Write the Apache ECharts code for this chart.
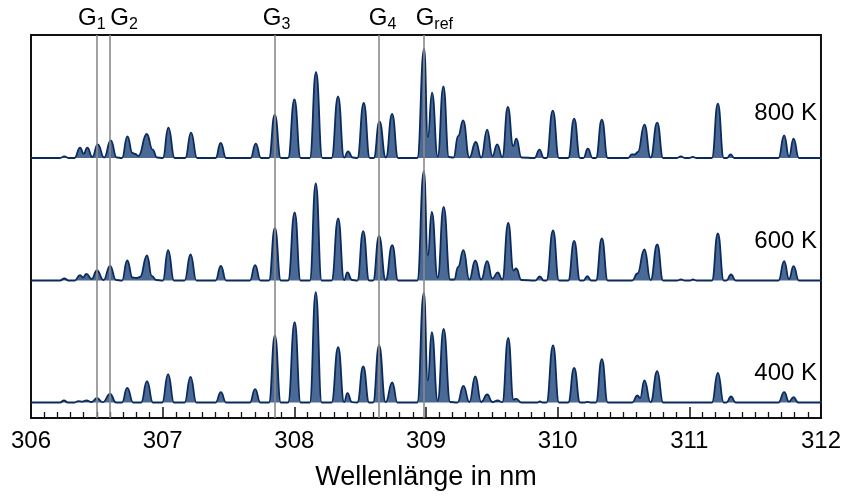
<!DOCTYPE html>
<html>
<head>
<meta charset="utf-8">
<script src="https://cdn.jsdelivr.net/npm/echarts@6/dist/echarts.min.js"></script>
<style>
  html, body { margin: 0; padding: 0; background: #fff; }
  #chart { width: 844px; height: 496px; }
</style>
</head>
<body>
<div id="chart"></div>
<script>
// turning points of each spectrum: [wavelength nm, intensity a.u.]
const spec800 = [
  [306, 0], [306.22, 0], [306.253, 1.7], [306.285, 0],
  [306.33, 0], [306.372, 10.3], [306.40, 4.3], [306.427, 10.3], [306.465, 1], [306.506, 13.7],
  [306.555, 0.5], [306.605, 17.7], [306.65, 0.5],
  [306.69, 0], [306.731, 21.7], [306.77, 5], [306.79, 4], [306.815, 2], [306.878, 24],
  [306.923, 8.3], [306.955, 0.5],
  [307.0, 0], [307.042, 30.3], [307.09, 0],
  [307.17, 0], [307.214, 25.3], [307.26, 0],
  [307.40, 0], [307.439, 15], [307.48, 0],
  [307.665, 0], [307.705, 14.3], [307.745, 0],
  [307.805, 0], [307.849, 43.3], [307.895, 0],
  [307.95, 0], [307.998, 58.7], [308.045, 0],
  [308.115, 0], [308.162, 86], [308.21, 0],
  [308.28, 0], [308.329, 61.7], [308.375, 0.5], [308.405, 6.7], [308.44, 0.5],
  [308.475, 0], [308.524, 55], [308.57, 0],
  [308.60, 0], [308.643, 36.7], [308.692, 0.5], [308.739, 44], [308.785, 0],
  [308.93, 0], [308.982, 109.3], [309.01, 21], [309.042, 65.3], [309.085, 1.7], [309.128, 71.7],
  [309.17, 1], [309.205, 0.5], [309.24, 22], [309.278, 37.7], [309.325, 0.5],
  [309.374, 16], [309.415, 0.5], [309.46, 28.3], [309.50, 2], [309.536, 13.7], [309.575, 1],
  [309.617, 51], [309.658, 12], [309.682, 19.3], [309.72, 0.5],
  [309.82, 0], [309.857, 8.3], [309.89, 0],
  [309.91, 0], [309.958, 47.3], [310.005, 0],
  [310.075, 0], [310.12, 39.3], [310.165, 0],
  [310.19, 0], [310.224, 9.3], [310.26, 0],
  [310.285, 0], [310.33, 38.3], [310.375, 0],
  [310.53, 0], [310.558, 3.7], [310.58, 3.5], [310.603, 6], [310.653, 33.3], [310.70, 0.5],
  [310.75, 35.3], [310.795, 0],
  [310.90, 0], [310.929, 1.7], [310.96, 0], [310.99, 0], [311.02, 1], [311.05, 0],
  [311.165, 0], [311.21, 54.3], [311.255, 0], [311.28, 0], [311.306, 3.7], [311.335, 0],
  [311.67, 0], [311.713, 22.7], [311.75, 1.5], [311.784, 19.3], [311.825, 0], [312, 0]
];

const spec600 = [
  [306, 0], [306.22, 0], [306.253, 2], [306.285, 0],
  [306.33, 0], [306.372, 5.3], [306.395, 3], [306.42, 6.7], [306.46, 1.5], [306.50, 10],
  [306.55, 0.5], [306.60, 14.7], [306.645, 0.5],
  [306.69, 0], [306.73, 20], [306.77, 3], [306.80, 2.5], [306.827, 3.5], [306.88, 25],
  [306.916, 4.7], [306.95, 0.5],
  [307.0, 0], [307.04, 30.3], [307.085, 0],
  [307.165, 0], [307.21, 26], [307.255, 0],
  [307.40, 0], [307.44, 14.7], [307.48, 0],
  [307.66, 0], [307.70, 15.3], [307.74, 0],
  [307.805, 0], [307.85, 52.7], [307.895, 0],
  [307.95, 0], [308.0, 68], [308.045, 0],
  [308.115, 0], [308.16, 97], [308.205, 0],
  [308.28, 0], [308.33, 62], [308.375, 0.5], [308.40, 8], [308.435, 0.5],
  [308.475, 0], [308.52, 49.3], [308.565, 0],
  [308.595, 0], [308.64, 44.7], [308.69, 0.5], [308.74, 35.3], [308.785, 0],
  [308.93, 0], [308.98, 109.3], [309.01, 25], [309.04, 68.7], [309.085, 3], [309.13, 73.7],
  [309.18, 1], [309.21, 1], [309.24, 13.7], [309.28, 30.3], [309.325, 1],
  [309.37, 20], [309.415, 1], [309.46, 19.3], [309.50, 2], [309.54, 8], [309.575, 1],
  [309.62, 57.7], [309.66, 10], [309.68, 12], [309.72, 0.5],
  [309.825, 0], [309.86, 4], [309.89, 0],
  [309.91, 0], [309.96, 50], [310.005, 0],
  [310.075, 0], [310.12, 39.7], [310.165, 0],
  [310.19, 0], [310.22, 4.3], [310.25, 0],
  [310.285, 0], [310.33, 42], [310.375, 0],
  [310.56, 0], [310.60, 7], [310.653, 31], [310.70, 0.5], [310.75, 36], [310.795, 0],
  [310.90, 0], [310.93, 1], [310.96, 0], [311.0, 0], [311.02, 1], [311.05, 0],
  [311.165, 0], [311.21, 47], [311.255, 0], [311.275, 0], [311.31, 6], [311.345, 0],
  [311.67, 0], [311.713, 19.3], [311.75, 1.5], [311.784, 14.3], [311.825, 0], [312, 0]
];

const spec400 = [
  [306, 0], [306.22, 0], [306.25, 2], [306.28, 0],
  [306.33, 0], [306.36, 1.3], [306.39, 0.8], [306.42, 2], [306.46, 0.5], [306.50, 4.3],
  [306.545, 0.3], [306.60, 8.7], [306.645, 0],
  [306.69, 0], [306.73, 14.7], [306.775, 0],
  [306.835, 0], [306.88, 21.3], [306.925, 0],
  [306.995, 0], [307.04, 28.3], [307.085, 0],
  [307.165, 0], [307.21, 25.7], [307.255, 0],
  [307.40, 0], [307.44, 10.3], [307.48, 0],
  [307.66, 0], [307.70, 13.3], [307.74, 0],
  [307.805, 0], [307.85, 67], [307.895, 0],
  [307.95, 0], [308.0, 80.3], [308.045, 0],
  [308.115, 0], [308.16, 110.3], [308.205, 0],
  [308.28, 0], [308.33, 55.3], [308.375, 0.5], [308.40, 9.3], [308.435, 0.3],
  [308.475, 0], [308.52, 36], [308.565, 0],
  [308.595, 0], [308.64, 57], [308.69, 0.3], [308.74, 20], [308.78, 0],
  [308.93, 0], [308.98, 109.7], [309.01, 22], [309.04, 70.3], [309.085, 2], [309.13, 73.7],
  [309.18, 0.5], [309.235, 0], [309.28, 16.7], [309.325, 0.5],
  [309.37, 26], [309.415, 0.5], [309.46, 8], [309.50, 0.5], [309.54, 2], [309.575, 0.3],
  [309.62, 64.7], [309.66, 3], [309.68, 3.7], [309.72, 0],
  [309.84, 0], [309.86, 1], [309.88, 0],
  [309.91, 0], [309.96, 57], [310.005, 0],
  [310.075, 0], [310.12, 34.7], [310.165, 0],
  [310.2, 0], [310.22, 0.7], [310.245, 0],
  [310.285, 0], [310.33, 43.3], [310.375, 0],
  [310.56, 0], [310.60, 7], [310.62, 4.5], [310.653, 22], [310.70, 0.3], [310.75, 31.3], [310.795, 0],
  [311.165, 0], [311.21, 29.7], [311.255, 0], [311.275, 0], [311.31, 6], [311.345, 0],
  [311.67, 0], [311.713, 10.3], [311.75, 0.8], [311.784, 5.3], [311.82, 0], [312, 0]
];

const temperatures = ['800 K', '600 K', '400 K'];
const lineNames = ['1', '2', '3', '4', 'ref'];
const linePositions = [306.50, 306.60, 307.85, 308.64, 308.98];
const lineLabelShift = [-5, 14, 2, 4, 11];

const FONT = 'Liberation Sans, Arial, sans-serif';
const left = 31, width = 791;
const panels = [
  { top: 35.5, height: 122.5, data: spec800, labelTop: 101 },
  { top: 158, height: 122.5, data: spec600, labelTop: 229 },
  { top: 280.5, height: 122, data: spec400, labelTop: 361 }
];

const grids = [{ left, width, top: 35, height: 384, show: true, borderColor: '#111', borderWidth: 2 }];
const xAxes = [{
  gridIndex: 0, type: 'value', min: 306, max: 312, interval: 1,
  axisLine: { show: false },
  axisTick: { inside: true, length: 11, lineStyle: { color: '#111', width: 1.5 } },
  minorTick: { show: true, splitNumber: 10, length: 6, lineStyle: { color: '#111', width: 1.3 } },
  splitLine: { show: false },
  axisLabel: { fontSize: 24, color: '#000', margin: 11, fontFamily: FONT },
  name: 'Wellenlänge in nm', nameLocation: 'middle', nameGap: 46,
  nameTextStyle: { fontSize: 27, color: '#000', fontFamily: FONT }
}];
const yAxes = [{ gridIndex: 0, min: 0, max: 1, show: false }];
const series = [{
  type: 'line', xAxisIndex: 0, yAxisIndex: 0, data: [[306, 0]],
  showSymbol: false, lineStyle: { opacity: 0 }, z: 10, silent: true,
  markLine: {
    symbol: 'none', silent: true, animation: false,
    lineStyle: { color: '#8a8a8a', width: 1.6, type: 'solid' },
    label: {
      position: 'end', distance: 2,
      rich: {
        g: { fontSize: 24, color: '#000', fontFamily: FONT },
        s: { fontSize: 16, color: '#000', fontFamily: FONT, padding: [14, 0, 0, 0] }
      }
    },
    data: linePositions.map((x, i) => ({
      xAxis: x,
      label: { formatter: '{g|G}{s|' + lineNames[i] + '}', offset: [lineLabelShift[i], 0] }
    }))
  }
}];

panels.forEach((p, i) => {
  const k = i + 1;
  grids.push({ left, width, top: p.top, height: p.height });
  xAxes.push({ gridIndex: k, type: 'value', min: 306, max: 312, show: false });
  yAxes.push({ gridIndex: k, type: 'value', min: 0, max: p.height, show: false });
  series.push({
    type: 'line', xAxisIndex: k, yAxisIndex: k, data: p.data,
    showSymbol: false, smooth: 0.5, smoothMonotone: 'x', clip: false, silent: true,
    lineStyle: { color: '#0b2b5e', width: 1.8 },
    areaStyle: { color: '#4a6994', opacity: 1 },
    z: 3
  });
});

const chart = echarts.init(document.getElementById('chart'));
chart.setOption({
  animation: false,
  grid: grids,
  xAxis: xAxes,
  yAxis: yAxes,
  series: series,
  graphic: panels.map((p, i) => ({
    type: 'text', right: 27, top: p.labelTop,
    style: { text: temperatures[i], fontSize: 24, fill: '#000', fontFamily: FONT }
  }))
});
</script>
</body>
</html>
